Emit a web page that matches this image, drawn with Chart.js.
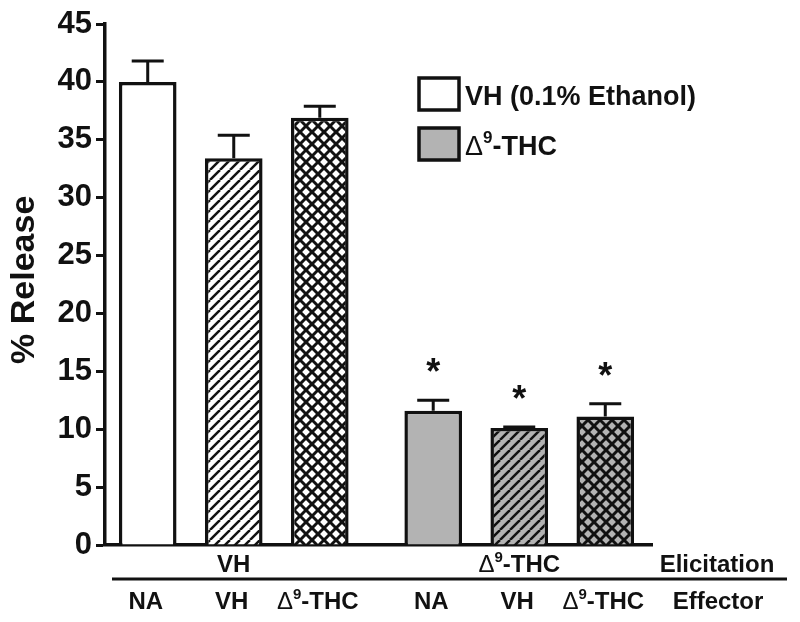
<!DOCTYPE html>
<html>
<head>
<meta charset="utf-8">
<script src="https://cdn.jsdelivr.net/npm/chart.js@4.4.1/dist/chart.umd.min.js"></script>
<style>
  html, body { margin: 0; padding: 0; background: #fff; }
  #wrap { width: 800px; height: 622px; }
</style>
</head>
<body>
<div id="wrap"><canvas id="releaseChart" width="800" height="622"></canvas></div>
<script>
// elicitation groups on the x axis, effector bars inside each group
const elicitation = ["VH", "Δ9-THC"];
const effectors = ["NA", "VH", "Δ9-THC"];
const legendLabels = ["VH (0.1% Ethanol)", "Δ9-THC"];

// % release (mean) per effector, one value per elicitation group
const naMeans = [40, 11.6];
const vhMeans = [33.4, 10.1];
const thcMeans = [36.9, 11.1];

// error (SEM) per effector
const naErr = [1.8, 0.9];
const vhErr = [2.0, 0.1];
const thcErr = [1.0, 1.1];

// significance marks
const naStars = ["", "*"];
const vhStars = ["", "*"];
const thcStars = ["", "*"];

const yTicks = [0, 5, 10, 15, 20, 25, 30, 35, 40, 45];

const INK = "#111";
const fills = ["#ffffff", "#b3b3b3"];
const FONT = "'Liberation Sans', Arial, Helvetica, sans-serif";
Chart.defaults.font.family = FONT;

const ctx = document.getElementById("releaseChart").getContext("2d");

function makePattern(bg, size, lw, cross) {
    const c = document.createElement("canvas");
    c.width = size;
    c.height = size;
    const g = c.getContext("2d");
    g.fillStyle = bg;
    g.fillRect(0, 0, size, size);
    g.strokeStyle = INK;
    g.lineWidth = lw;
    for (const o of [-size, 0, size]) {
        g.beginPath();
        g.moveTo(o, size);
        g.lineTo(o + size, 0);
        g.stroke();
        if (cross) {
            g.beginPath();
            g.moveTo(o, 0);
            g.lineTo(o + size, size);
            g.stroke();
        }
    }
    return ctx.createPattern(c, "repeat");
}

// text with a superscript 9 after the delta
function drawRich(c, text, x, yCenter, size, align) {
    const parts = [];
    if (text.startsWith("Δ9")) {
        parts.push({ t: "Δ", font: size + "px " + FONT, dy: 0 });
        parts.push({ t: "9", font: "bold " + Math.round(size * 0.62) + "px " + FONT, dy: -size * 0.42 });
        parts.push({ t: text.slice(2), font: "bold " + size + "px " + FONT, dy: 0 });
    } else {
        parts.push({ t: text, font: "bold " + size + "px " + FONT, dy: 0 });
    }
    let total = 0;
    for (const p of parts) {
        c.font = p.font;
        p.w = c.measureText(p.t).width;
        total += p.w;
    }
    let sx = x;
    if (align === "center") sx = x - total / 2;
    if (align === "right") sx = x - total;
    const base = yCenter + size * 0.36;
    c.textAlign = "left";
    c.textBaseline = "alphabetic";
    c.fillStyle = INK;
    for (const p of parts) {
        c.font = p.font;
        c.fillText(p.t, sx, base + p.dy);
        sx += p.w;
    }
}

const errs = [naErr, vhErr, thcErr];
const stars = [naStars, vhStars, thcStars];

// spread the two groups a little wider than the axis line
const spreadPlugin = {
    id: "spread",
    afterLayout(chart) {
        const xs = chart.scales.x;
        xs._startPixel = xs.left - 14;
        xs._endPixel = xs.right + 10;
        xs._length = xs._endPixel - xs._startPixel;
    }
};

const extrasPlugin = {
    id: "extras",
    afterDatasetsDraw(chart) {
        const c = chart.ctx;
        const y = chart.scales.y;
        c.save();
        c.strokeStyle = INK;
        c.lineWidth = 3;
        chart.data.datasets.forEach((ds, di) => {
            const meta = chart.getDatasetMeta(di);
            meta.data.forEach((bar, i) => {
                const top = y.getPixelForValue(ds.data[i]);
                const eTop = y.getPixelForValue(ds.data[i] + errs[di][i]);
                c.beginPath();
                c.moveTo(bar.x, top);
                c.lineTo(bar.x, eTop);
                c.moveTo(bar.x - 16, eTop);
                c.lineTo(bar.x + 16, eTop);
                c.stroke();
                if (stars[di][i]) {
                    c.font = "bold 36px " + FONT;
                    c.textAlign = "center";
                    c.textBaseline = "alphabetic";
                    c.fillStyle = INK;
                    c.fillText(stars[di][i], bar.x, eTop - 36 + 20);
                }
            });
        });
        c.restore();
    },
    afterDraw(chart) {
        const c = chart.ctx;
        const xs = chart.scales.x;
        c.save();
        // elicitation row
        elicitation.forEach((lab, i) => {
            drawRich(c, lab, xs.getPixelForValue(i), 563, 24, "center");
        });
        drawRich(c, "Elicitation", 717, 563, 24, "center");
        // separator
        c.strokeStyle = INK;
        c.lineWidth = 3;
        c.beginPath();
        c.moveTo(112, 579);
        c.lineTo(787, 579);
        c.stroke();
        // effector row
        chart.data.datasets.forEach((ds, di) => {
            chart.getDatasetMeta(di).data.forEach((bar) => {
                drawRich(c, effectors[di], bar.x - 2, 600, 24, "center");
            });
        });
        drawRich(c, "Effector", 718, 600, 24, "center");
        // legend
        legendLabels.forEach((lab, i) => {
            const by = 78 + i * 50;
            c.fillStyle = fills[i];
            c.fillRect(419, by, 40, 32);
            c.strokeStyle = INK;
            c.lineWidth = 3.5;
            c.strokeRect(419, by, 40, 32);
            drawRich(c, lab, 465, by + 17, 27, "left");
        });
        c.restore();
    }
};

new Chart(ctx, {
    type: "bar",
    data: {
        labels: elicitation,
        datasets: [
            {
                label: effectors[0],
                data: naMeans,
                backgroundColor: fills,
                borderColor: INK,
                borderWidth: 3.5
            },
            {
                label: effectors[1],
                data: vhMeans,
                backgroundColor: fills.map(f => makePattern(f, 10, 2.5, false)),
                borderColor: INK,
                borderWidth: 3.5
            },
            {
                label: effectors[2],
                data: thcMeans,
                backgroundColor: fills.map(f => makePattern(f, 12, 3, true)),
                borderColor: INK,
                borderWidth: 3.5
            }
        ]
    },
    options: {
        responsive: false,
        animation: false,
        categoryPercentage: 0.904,
        barPercentage: 0.67,
        layout: { padding: { top: 24, right: 148, left: 0, bottom: 0 } },
        plugins: {
            legend: { display: false },
            tooltip: { enabled: false }
        },
        scales: {
            x: {
                offset: true,
                ticks: { display: false },
                grid: { display: false },
                border: { color: INK, width: 3.5 },
                afterFit(s) { s.height = 77; }
            },
            y: {
                min: 0,
                max: 45,
                afterBuildTicks(s) { s.ticks = yTicks.map(v => ({ value: v })); },
                ticks: {
                    color: INK,
                    padding: 4,
                    font: { size: 31, weight: "bold" }
                },
                grid: {
                    drawOnChartArea: false,
                    tickLength: 9,
                    tickWidth: 3,
                    color: INK
                },
                border: { color: INK, width: 3.5 },
                title: {
                    display: true,
                    text: " % Release",
                    color: INK,
                    font: { size: 34, weight: "bold" },
                    padding: { top: 4, bottom: 0 }
                },
                afterFit(s) { s.width = 105; }
            }
        }
    },
    plugins: [spreadPlugin, extrasPlugin]
});
</script>
</body>
</html>
